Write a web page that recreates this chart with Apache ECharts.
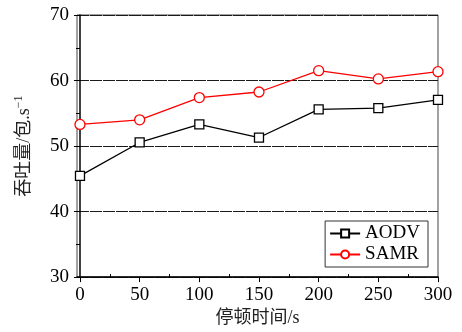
<!DOCTYPE html>
<html>
<head>
<meta charset="utf-8">
<script src="https://cdn.jsdelivr.net/npm/echarts@6/dist/echarts.min.js"></script>
<style>
  html, body { margin: 0; padding: 0; background: #fff; }
  #chart { width: 462px; height: 332px; }
</style>
</head>
<body>
<div id="chart"></div>
<script>
const pauseTimes = [0, 50, 100, 150, 200, 250, 300];
const aodvValues = [45.45, 50.55, 53.3, 51.3, 55.6, 55.8, 57.05];
const samrValues = [53.3, 54.0, 57.4, 58.25, 61.5, 60.25, 61.35];
const xTickValues = [0, 50, 100, 150, 200, 250, 300];
const xMinorTicks = [25, 75, 125, 175, 225, 275];

const serif = '"Liberation Serif", "Noto Sans CJK SC", serif';

const chart = echarts.init(document.getElementById('chart'), null, { renderer: 'canvas' });

const option = {
  backgroundColor: '#fff',
  animation: false,
  textStyle: { fontFamily: serif, color: '#000' },
  grid: {
    left: 77, right: 24, top: 15, bottom: 51,
    show: true, borderColor: '#444', borderWidth: 1, backgroundColor: 'transparent'
  },
  legend: {
    right: 34, top: 221,
    orient: 'vertical',
    itemGap: 2,
    itemWidth: 30,
    itemHeight: 10,
    padding: [3, 8, 3, 4],
    borderColor: '#333',
    borderWidth: 1,
    textStyle: { fontFamily: serif, fontSize: 19, color: '#000' },
    data: ['AODV', 'SAMR']
  },
  xAxis: [
    {
      type: 'value',
      min: -2.5, max: 300,
      name: '停顿时间/s',
      nameLocation: 'middle',
      nameGap: 28,
      nameTextStyle: { fontFamily: serif, fontSize: 18, color: '#222' },
      axisLine: { show: true, onZero: false, lineStyle: { color: '#000', width: 1.5 } },
      axisTick: { show: true, customValues: xTickValues, length: 5, lineStyle: { color: '#000' } },
      axisLabel: { customValues: xTickValues, fontFamily: serif, fontSize: 19, color: '#000', margin: 8 },
      splitLine: { show: false }
    },
    {
      type: 'value',
      min: -2.5, max: 300,
      position: 'bottom',
      axisLine: { show: false },
      axisTick: { show: true, inside: true, customValues: xMinorTicks, length: 3, lineStyle: { color: '#000' } },
      axisLabel: { show: false },
      splitLine: { show: false }
    }
  ],
  yAxis: {
    type: 'value',
    min: 30, max: 70, interval: 10,
    name: '{n|吞吐量/包.s}{sup|−1}',
    nameLocation: 'middle',
    nameGap: 42,
    nameTextStyle: {
      rich: {
        n: { fontFamily: serif, fontSize: 18, color: '#222' },
        sup: { fontFamily: serif, fontSize: 12, color: '#222', padding: [0, 0, 10, 0] }
      }
    },
    axisLine: { show: true, lineStyle: { color: '#000', width: 1.5 } },
    axisTick: { show: true, length: 6, lineStyle: { color: '#000' } },
    minorTick: { show: true, splitNumber: 2, length: 4, lineStyle: { color: '#000' } },
    axisLabel: { fontFamily: serif, fontSize: 19, color: '#000', margin: 8 },
    splitLine: { show: true, lineStyle: { color: '#1a1a1a', width: 1.2, type: [12, 1] } }
  },
  series: [
    {
      name: 'AODV',
      type: 'line',
      data: pauseTimes.map((x, i) => [x, aodvValues[i]]),
      symbol: 'rect',
      symbolSize: 9,
      lineStyle: { color: '#000', width: 1.3 },
      itemStyle: { color: '#fff', borderColor: '#000', borderWidth: 1.3 },
      z: 3
    },
    {
      name: 'SAMR',
      type: 'line',
      data: pauseTimes.map((x, i) => [x, samrValues[i]]),
      symbol: 'circle',
      symbolSize: 10,
      lineStyle: { color: '#ff0000', width: 1.3 },
      itemStyle: { color: '#fff', borderColor: '#ff0000', borderWidth: 1.3 },
      z: 3
    }
  ]
};

chart.setOption(option);
</script>
</body>
</html>
